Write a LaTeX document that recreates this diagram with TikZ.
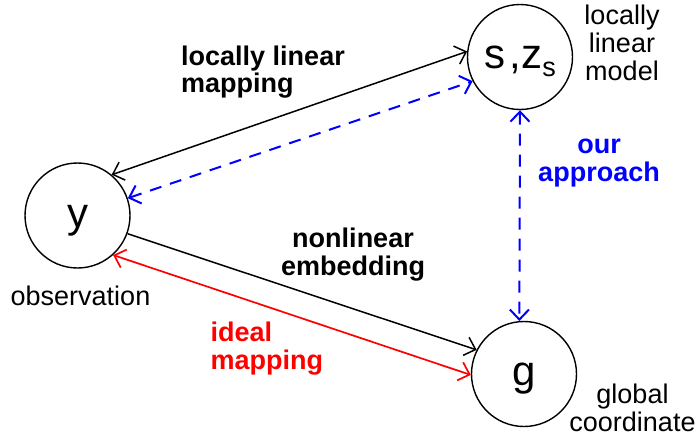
\documentclass[tikz,border=0pt]{standalone}
\usepackage{fontspec}
\setmainfont{Liberation Sans}
\usetikzlibrary{arrows.meta}
\begin{document}
\begin{tikzpicture}[x=1pt,y=-1pt,
  >={Straight Barb[length=10pt,width=19pt]},
  state/.style={circle,draw,line width=1.4pt,minimum size=105pt,inner sep=0pt,
    text height=31pt,text depth=8pt,font=\fontsize{42}{42}\selectfont},
  lbl/.style={inner sep=0pt,font=\fontsize{27}{28}\selectfont},
  bold/.style={inner sep=0pt,font=\fontsize{27}{28}\selectfont\bfseries},
  solidline/.style={line width=1.5pt},
  blueline/.style={blue,line width=2pt,dash pattern=on 12pt off 9pt},
  redline/.style={red,line width=1.7pt}]
\useasboundingbox (0,0) rectangle (698,436);

% states
\node[state] (y) at (77.5,215.5) {y};
\node[state] (s) at (520,57) {s\kern4.5pt,z\raisebox{-7.5pt}{\fontsize{27}{27}\selectfont s}};
\node[state] (g) at (524,374) {g};

% connectors
\draw[solidline,<->] (y.50.8) -- (s.174.7);
\draw[blueline,<->] (y.19.7) -- (s.207);
\draw[solidline,->] (y.-20.2) -- (g.153.4);
\draw[redline,<->] (y.-48.8) -- (g.181);
\draw[blueline,<->] (s.south) -- (g.95);

% labels
\node[bold,anchor=base west] (llm) at (181,65)
  {\begin{tabular}[t]{@{}l@{}}locally linear\\mapping\end{tabular}};
\node[lbl,anchor=base] (llmodel) at (622,25)
  {\begin{tabular}[t]{@{}c@{}}locally\\linear\\model\end{tabular}};
\node[bold,blue,anchor=base] (ours) at (599,153.3)
  {\begin{tabular}[t]{@{}c@{}}our\\approach\end{tabular}};
\node[bold,anchor=base] (nle) at (353,247.3)
  {\begin{tabular}[t]{@{}c@{}}nonlinear\\embedding\end{tabular}};
\node[bold,red,anchor=base west] (ideal) at (210.5,341.7)
  {\begin{tabular}[t]{@{}l@{}}ideal\\mapping\end{tabular}};
\node[lbl,anchor=base west] (obs) at (10.5,305) {observation};
\node[lbl,anchor=base] (glob) at (632.5,403.3)
  {\begin{tabular}[t]{@{}c@{}}global\\coordinate\end{tabular}};
\end{tikzpicture}
\end{document}
